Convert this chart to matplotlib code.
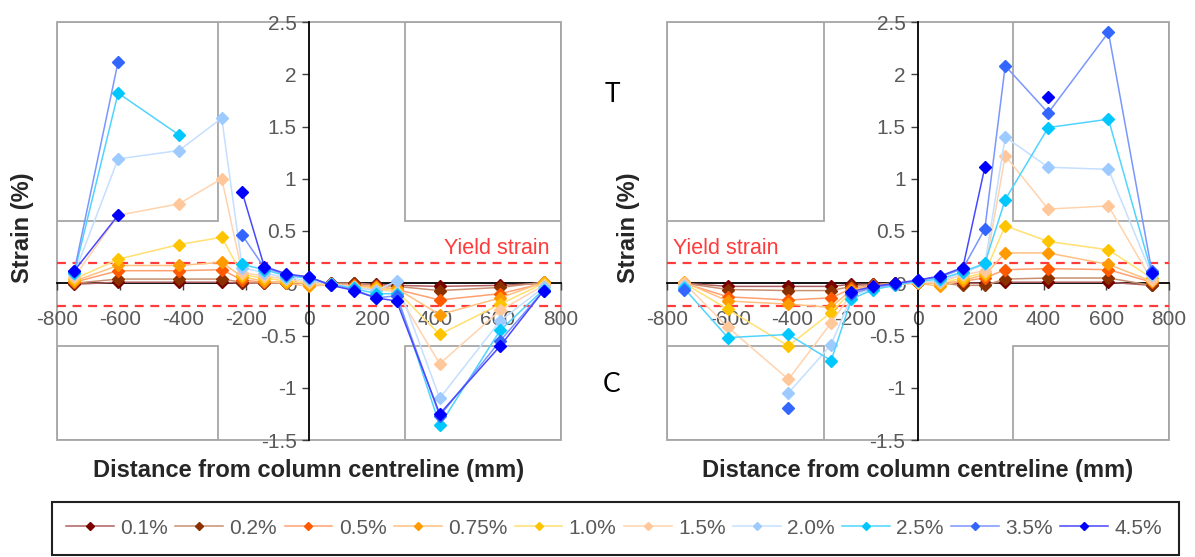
import numpy as np
import matplotlib
matplotlib.use("Agg")
import matplotlib.pyplot as plt
from matplotlib.patches import Rectangle
from matplotlib.ticker import FuncFormatter

nan = np.nan
# gauge positions (mm from column centreline)
positions = [-745, -606, -413, -277, -212, -142, -72, 0, 71, 143, 213, 278, 415, 607, 745]
labels = ["0.1%", "0.2%", "0.5%", "0.75%", "1.0%", "1.5%", "2.0%", "2.5%", "3.5%", "4.5%"]

# left panel strains (%)
left_01 = [-0.01, 0.01, 0.01, 0.01, 0.00, 0.00, 0.00, 0.00, 0.00, 0.00, -0.01, -0.02, -0.03, -0.02, 0.00]
left_02 = [0.00, 0.04, 0.04, 0.04, 0.01, 0.00, 0.00, 0.00, 0.00, 0.00, -0.02, -0.03, -0.07, -0.04, 0.01]
left_05 = [0.01, 0.12, 0.12, 0.13, 0.03, 0.01, 0.01, 0.00, -0.01, -0.02, -0.03, -0.06, -0.16, -0.10, 0.00]
left_075 = [0.02, 0.17, 0.17, 0.20, 0.06, 0.02, 0.00, -0.03, -0.01, -0.03, -0.04, -0.05, -0.30, -0.14, 0.01]
left_10 = [0.04, 0.23, 0.37, 0.44, 0.08, 0.05, 0.02, 0.00, -0.01, -0.04, -0.05, -0.07, -0.49, -0.20, 0.00]
left_15 = [0.06, 0.65, 0.76, 1.00, 0.10, 0.07, 0.04, 0.01, -0.01, -0.04, -0.06, -0.08, -0.77, -0.26, -0.02]
left_20 = [0.09, 1.19, 1.27, 1.58, 0.15, 0.10, 0.05, 0.03, -0.01, -0.04, -0.07, 0.02, -1.10, -0.36, -0.04]
left_25 = [0.10, 1.82, 1.42, nan, 0.18, 0.13, 0.07, 0.05, -0.01, -0.05, -0.10, -0.10, -1.36, -0.45, -0.06]
left_35 = [0.12, 2.12, nan, nan, 0.46, 0.15, 0.08, 0.06, -0.02, -0.06, -0.14, -0.12, -1.27, -0.55, -0.07]
left_45 = [0.12, 0.65, nan, nan, 0.87, 0.16, 0.09, 0.06, -0.02, -0.07, -0.14, -0.17, -1.25, -0.60, -0.07]

# right panel strains (%)
right_01 = [0.00, -0.03, -0.03, -0.03, -0.01, -0.01, 0.00, 0.00, 0.00, 0.00, 0.00, 0.01, 0.01, 0.01, -0.02]
right_02 = [0.00, -0.06, -0.07, -0.07, -0.03, -0.01, 0.00, 0.00, 0.00, -0.02, -0.02, 0.04, 0.05, 0.05, -0.02]
right_05 = [0.00, -0.13, -0.16, -0.14, -0.05, -0.02, 0.00, 0.00, 0.00, 0.02, 0.05, 0.13, 0.14, 0.13, 0.01]
right_075 = [0.01, -0.17, -0.20, -0.23, -0.06, -0.03, -0.01, 0.00, -0.03, 0.03, 0.08, 0.29, 0.29, 0.18, 0.02]
right_10 = [0.00, -0.25, -0.60, -0.28, -0.08, -0.04, -0.01, 0.01, 0.00, 0.05, 0.10, 0.55, 0.40, 0.32, 0.05]
right_15 = [0.00, -0.42, -0.92, -0.38, -0.10, -0.05, -0.02, 0.01, 0.01, 0.08, 0.12, 1.22, 0.71, 0.74, 0.03]
right_20 = [-0.03, nan, -1.05, -0.59, -0.12, -0.05, -0.02, 0.02, 0.02, 0.10, 0.18, 1.40, 1.11, 1.09, 0.08]
right_25 = [-0.05, -0.52, -0.49, -0.74, -0.15, -0.06, -0.02, 0.02, 0.04, 0.11, 0.19, 0.80, 1.49, 1.57, 0.10]
right_35 = [-0.06, nan, -1.19, nan, -0.10, -0.04, -0.01, 0.03, 0.06, 0.14, 0.52, 2.08, 1.63, 2.40, 0.12]
right_45 = [nan, nan, nan, nan, -0.08, -0.03, 0.00, 0.03, 0.07, 0.15, 1.11, nan, 1.78, nan, 0.10]

left_series = [left_01, left_02, left_05, left_075, left_10, left_15, left_20, left_25, left_35, left_45]
right_series = [right_01, right_02, right_05, right_075, right_10, right_15, right_20, right_25, right_35, right_45]

marker_colors = ["#7A0000", "#8B3000", "#FF5A00", "#FF9A00", "#FFC400",
                 "#FFC79A", "#9ECBFF", "#00C8FF", "#3366FF", "#0000FF"]
line_colors = ["#B06060", "#C89070", "#FFA070", "#FFC080", "#FFE070",
               "#FFD3AE", "#C4DFFF", "#50D4FF", "#7A96FF", "#4848FF"]

yield_pos = 0.19
yield_neg = -0.22
xticks = list(range(-800, 801, 200))
yticks = [-1.5, -1.0, -0.5, 0.0, 0.5, 1.0, 1.5, 2.0, 2.5]

plt.rcParams['font.family'] = ['Liberation Sans', 'DejaVu Sans']
W, H = 1195, 557
fig = plt.figure(figsize=(W / 100, H / 100), dpi=100)

def px_axes(x0, x1, y0, y1):
    return fig.add_axes([x0 / W, 1 - y1 / H, (x1 - x0) / W, (y1 - y0) / H])

ax1 = px_axes(57, 561, 22, 440)
ax2 = px_axes(667, 1169, 22, 440)

gray = "#A6A6A6"
tick_gray = "#595959"

def setup(ax, rects, series, yield_x, yield_ha):
    ax.set_xlim(-800, 800)
    ax.set_ylim(-1.5, 2.5)
    for (x0, x1, y0, y1) in rects:
        ax.add_patch(Rectangle((x0, y0), x1 - x0, y1 - y0, fill=False,
                               ec=gray, lw=1.3, zorder=1))
    ax.axhline(yield_pos, color="#FF3B3B", ls=(0, (4, 3)), lw=1.6, zorder=2)
    ax.axhline(yield_neg, color="#FF3B3B", ls=(0, (4, 3)), lw=1.6, zorder=2)
    ax.text(yield_x, 0.335, "Yield strain", color="#FF3B3B", fontsize=15.5,
            ha=yield_ha, va="center", zorder=3)
    handles = []
    for vals, lc, mc, lab in zip(series, line_colors, marker_colors, labels):
        h, = ax.plot(positions, vals, color=lc, lw=1.1, marker="D", ms=6,
                     mfc=mc, mec=mc, zorder=4, label=lab)
        handles.append(h)
    for s in ["top", "right"]:
        ax.spines[s].set_visible(False)
    ax.spines["left"].set_position(("data", 0))
    ax.spines["bottom"].set_position(("data", 0))
    for s in ["left", "bottom"]:
        ax.spines[s].set_color("black")
        ax.spines[s].set_linewidth(1.3)
        ax.spines[s].set_zorder(3)
    ax.add_patch(Rectangle((0, 0), 1, 1, transform=ax.transAxes, fill=False,
                           ec=gray, lw=1.3, clip_on=False, zorder=1))
    ax.set_xticks(xticks)
    ax.set_yticks(yticks)
    fmt = FuncFormatter(lambda v, p: f"{v:g}")
    ax.xaxis.set_major_formatter(fmt)
    ax.yaxis.set_major_formatter(fmt)
    ax.tick_params(axis="both", direction="out", length=5, width=1,
                   color="#404040", labelcolor=tick_gray, labelsize=15)
    ax.tick_params(axis="x", pad=14)
    ax.tick_params(axis="y", pad=4)
    ax.patch.set_alpha(0)
    return handles

rects_left = [(-800, -290, 0.6, 2.5), (305, 800, 0.6, 2.5),
              (-800, -290, -1.5, -0.6), (305, 800, -1.5, -0.6)]
rects_right = [(-800, -300, 0.6, 2.5), (303, 800, 0.6, 2.5),
               (-800, -300, -1.5, -0.6), (303, 800, -1.5, -0.6)]

handles = setup(ax1, rects_left, left_series, 765, "right")
setup(ax2, rects_right, right_series, -780, "left")

# axis titles
for xc, yc in [(22, 228), (628, 228)]:
    fig.text(xc / W, 1 - yc / H, "Strain (%)", rotation=90, ha="center", va="center",
             fontsize=17, fontweight="bold", color="#262626")
for xc in [309, 918]:
    fig.text(xc / W, 1 - 470 / H, "Distance from column centreline (mm)", ha="center",
             va="center", fontsize=17, fontweight="bold", color="#262626")

fig.text(612 / W, 1 - 95 / H, "T", ha="center", va="center", fontsize=19,
         family=["Lato", "DejaVu Sans"], color="black")
fig.text(612 / W, 1 - 385 / H, "C", ha="center", va="center", fontsize=19,
         family=["Lato", "DejaVu Sans"], color="black")

leg = fig.legend(handles, labels, loc="center", bbox_to_anchor=(614 / W, 1 - 528 / H),
                 ncol=10, frameon=False, fontsize=15, handlelength=2.3,
                 handletextpad=0.3, columnspacing=0.35, markerscale=0.7)
for t in leg.get_texts():
    t.set_color(tick_gray)
fig.patches.append(Rectangle((52 / W, 1 - 555 / H), (1179 - 52) / W, (555 - 502) / H,
                             transform=fig.transFigure, fill=False, ec="#202020", lw=1.5))

fig.savefig("out.png", dpi=100)
